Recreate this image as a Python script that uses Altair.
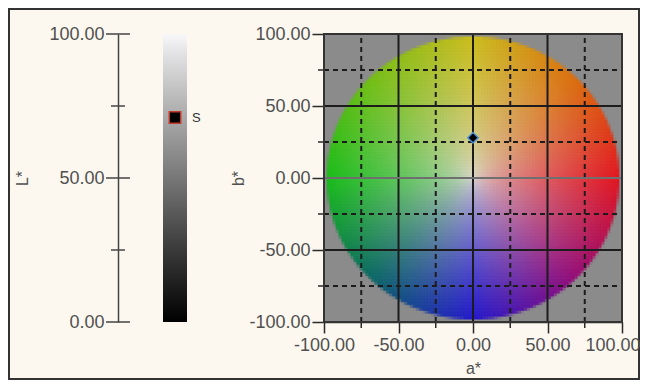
import numpy as np
import pandas as pd
import altair as alt

# ---------------- data ----------------
# Left panel: lightness axis L*
L_major = [0, 50, 100]
L_minor = [25, 75]
sample_name = ["S"]
sample_L = [71]

# Right panel: a*/b* plane
ab_major = [-100, -50, 0, 50, 100]
ab_minor = [-75, -25, 25, 75]
solid_grid = [-50, 0, 50]
dashed_grid = [-75, -25, 25, 75]
zero_line_b = [0]
sample_a = [0]
sample_b = [28]

# colour disc: edge colour per hue angle (deg), centre colour
hue_angles = [0, 45, 90, 135, 180, 225, 270, 315, 360]
hue_r = [228, 222, 205, 115, 25, 10, 35, 150, 228]
hue_g = [22, 110, 190, 192, 190, 105, 25, 12, 22]
hue_b = [32, 12, 30, 20, 25, 100, 205, 120, 32]
center_rgb = [218, 216, 210]
disc_radius = 98
cell = 2

# ---------------- disc cells (with edge coverage for a smooth rim) ----------------
cc = np.arange(-100 + cell / 2, 100, cell)
A, B = np.meshgrid(cc, cc)
A = A.ravel()
B = B.ravel()
sub = (np.arange(5) + 0.5) / 5 * cell - cell / 2
SA, SB = np.meshgrid(sub, sub)
SA = SA.ravel()
SB = SB.ravel()
cover = (np.hypot(A[:, None] + SA[None, :], B[:, None] + SB[None, :]) <= disc_radius).mean(axis=1)
m = cover > 0
A, B, cover = A[m], B[m], cover[m]
R = np.minimum(np.hypot(A, B), disc_radius)
ang = np.degrees(np.arctan2(B, A)) % 360
t = (R / disc_radius) ** 0.65
cols = []
for ch, anchors in zip(range(3), (hue_r, hue_g, hue_b)):
    edge = np.interp(ang, hue_angles, anchors)
    cols.append(np.clip(center_rgb[ch] * (1 - t) + edge * t, 0, 255).round().astype(int))
hexes = ["#%02x%02x%02x" % (r, g, b) for r, g, b in zip(*cols)]
disc_df = pd.DataFrame({"a": A - cell / 2, "a2": A + cell / 2,
                        "b": B - cell / 2, "b2": B + cell / 2, "c": hexes,
                        "o": np.round(cover, 3)})

FONT = "Liberation Sans"
LBL = "#505050"
DARK = "#2a2a2a"
H = 288

# ---------------- left panel ----------------
Lscale = alt.Scale(domain=[0, 100], nice=False, zero=False)
Laxis = alt.Axis(values=L_major, ticks=False, tickSize=0, labelPadding=14,
                 labelExpr="format(datum.value, '.2f')", grid=False,
                 domainColor="#444444", domainWidth=1.5,
                 title="L*", titleX=-88, titleY=144, titleFontSize=16,
                 titleFontWeight="normal", titleColor=LBL)

bar_df = pd.DataFrame({"L": [0], "L2": [100]})
grad = alt.Gradient(gradient="linear", x1=0, x2=0, y1=1, y2=0, stops=[
    alt.GradientStop(color="#000000", offset=0),
    alt.GradientStop(color="#3a3a3a", offset=0.25),
    alt.GradientStop(color="#777777", offset=0.5),
    alt.GradientStop(color="#b3b3b3", offset=0.75),
    alt.GradientStop(color="#e2e2e4", offset=0.93),
    alt.GradientStop(color="#f8f8fa", offset=1)])

bar = alt.Chart(bar_df).mark_rect(color=grad).encode(
    x=alt.value(45), x2=alt.value(69),
    y=alt.Y("L:Q", scale=Lscale, axis=Laxis), y2="L2:Q")

maj_df = pd.DataFrame({"L": L_major})
min_df = pd.DataFrame({"L": L_minor})
maj_ticks = alt.Chart(maj_df).mark_rule(color="#444444", strokeWidth=1.5).encode(
    x=alt.value(-12), x2=alt.value(12), y="L:Q")
min_ticks = alt.Chart(min_df).mark_rule(color="#444444", strokeWidth=1.5).encode(
    x=alt.value(-7), x2=alt.value(7), y="L:Q")

samp_df = pd.DataFrame({"L": sample_L, "name": sample_name})
samp = alt.Chart(samp_df).mark_square(size=130, fill="black", stroke="#c0392b",
                                      strokeWidth=1.5, opacity=1).encode(
    x=alt.value(57), y="L:Q")
samp_txt = alt.Chart(samp_df).mark_text(align="left", baseline="middle", font=FONT,
                                        fontSize=13, color="#333333").encode(
    x=alt.value(74), y="L:Q", text="name:N")

frame = alt.Chart(pd.DataFrame({"k": [0]})).mark_rect(
    fillOpacity=0, stroke="#333333", strokeWidth=2).encode(
    x=alt.value(-109), x2=alt.value(521), y=alt.value(-25), y2=alt.value(345))

left = alt.layer(frame, bar, maj_ticks, min_ticks, samp, samp_txt).properties(
    width=90, height=H)

# ---------------- right panel ----------------
ascale = alt.Scale(domain=[-100, 100], nice=False, zero=False)
bscale = alt.Scale(domain=[-100, 100], nice=False, zero=False)
fmt = "(datum.value < 0 ? '-' : '') + format(abs(datum.value), '.2f')"
xaxis = alt.Axis(values=ab_major, tickSize=11, tickColor=DARK, tickWidth=1.5,
                 domainColor=DARK, domainWidth=1.5, grid=False, labelExpr=fmt,
                 labelPadding=3,
                 labelAlign={"condition": {"test": "datum.value == 100", "value": "right"},
                             "value": "center"},
                 labelOffset={"condition": {"test": "datum.value == 100", "value": 18},
                              "value": 0},
                 title="a*", titleX=149, titleY=46, titleBaseline="middle",
                 titleFontSize=16, titleFontWeight="normal", titleColor=LBL)
yaxis = alt.Axis(values=ab_major, tickSize=12, tickColor=DARK, tickWidth=1.5,
                 domainColor=DARK, domainWidth=1.5, grid=False, labelExpr=fmt,
                 labelPadding=2,
                 title="b*", titleX=-78, titleY=144, titleFontSize=16,
                 titleFontWeight="normal", titleColor=LBL)

plane_df = pd.DataFrame({"a": [-100], "a2": [100], "b": [-100], "b2": [100]})
bg = alt.Chart(plane_df).mark_rect(color="#8b8b8b").encode(
    x=alt.X("a:Q", scale=ascale, axis=xaxis), x2="a2:Q",
    y=alt.Y("b:Q", scale=bscale, axis=yaxis), y2="b2:Q")

disc = alt.Chart(disc_df).mark_rect(strokeWidth=0.6).encode(
    x="a:Q", x2="a2:Q", y="b:Q", y2="b2:Q",
    color=alt.Color("c:N", scale=None), stroke=alt.Stroke("c:N", scale=None),
    opacity=alt.Opacity("o:Q", scale=None))

vs_df = pd.DataFrame({"a": solid_grid, "b": -100, "b2": 100})
vd_df = pd.DataFrame({"a": dashed_grid, "b": -100, "b2": 100})
hs_df = pd.DataFrame({"b": [v for v in solid_grid if v not in zero_line_b], "a": -100, "a2": 100})
hz_df = pd.DataFrame({"b": zero_line_b, "a": -100, "a2": 100})
hd_df = pd.DataFrame({"b": dashed_grid, "a": -100, "a2": 100})

v_solid = alt.Chart(vs_df).mark_rule(color="#1c1c1c", strokeWidth=2).encode(
    x="a:Q", y="b:Q", y2="b2:Q")
v_dash = alt.Chart(vd_df).mark_rule(color="#1c1c1c", strokeWidth=2, strokeDash=[5, 4]).encode(
    x="a:Q", y="b:Q", y2="b2:Q")
h_solid = alt.Chart(hs_df).mark_rule(color="#1c1c1c", strokeWidth=2).encode(
    y="b:Q", x="a:Q", x2="a2:Q")
h_zero = alt.Chart(hz_df).mark_rule(color="#6f6f6f", strokeWidth=2).encode(
    y="b:Q", x="a:Q", x2="a2:Q")
h_dash = alt.Chart(hd_df).mark_rule(color="#1c1c1c", strokeWidth=2, strokeDash=[5, 4]).encode(
    y="b:Q", x="a:Q", x2="a2:Q")

mx_df = pd.DataFrame({"a": ab_minor})
my_df = pd.DataFrame({"b": ab_minor})
x_minor = alt.Chart(mx_df).mark_rule(color=DARK, strokeWidth=1.5).encode(
    x="a:Q", y=alt.value(H), y2=alt.value(H + 6))
y_minor = alt.Chart(my_df).mark_rule(color=DARK, strokeWidth=1.5).encode(
    y="b:Q", x=alt.value(-6), x2=alt.value(0))

border = alt.Chart(plane_df).mark_rect(fillOpacity=0, stroke="#333333", strokeWidth=2).encode(
    x="a:Q", x2="a2:Q", y="b:Q", y2="b2:Q")

pt_df = pd.DataFrame({"a": sample_a, "b": sample_b})
pt = alt.Chart(pt_df).mark_point(shape="diamond", size=110, fill="black", filled=True,
                                 stroke="#4a90d9", strokeWidth=1.5, opacity=1).encode(
    x="a:Q", y="b:Q")

right = alt.layer(bg, disc, v_dash, h_dash, v_solid, h_solid, h_zero,
                  x_minor, y_minor, border, pt).properties(width=298, height=H)

chart = alt.hconcat(left, right, spacing=116, bounds="flush").resolve_scale(
    x="independent", y="independent").properties(padding=0).configure(
    background="#fcf8ef").configure_view(strokeWidth=0).configure_axis(
    labelFont=FONT, labelFontSize=18, labelColor=LBL, titleFont=FONT)

chart.save("out.html", embed_options={"renderer": "svg", "actions": False})
